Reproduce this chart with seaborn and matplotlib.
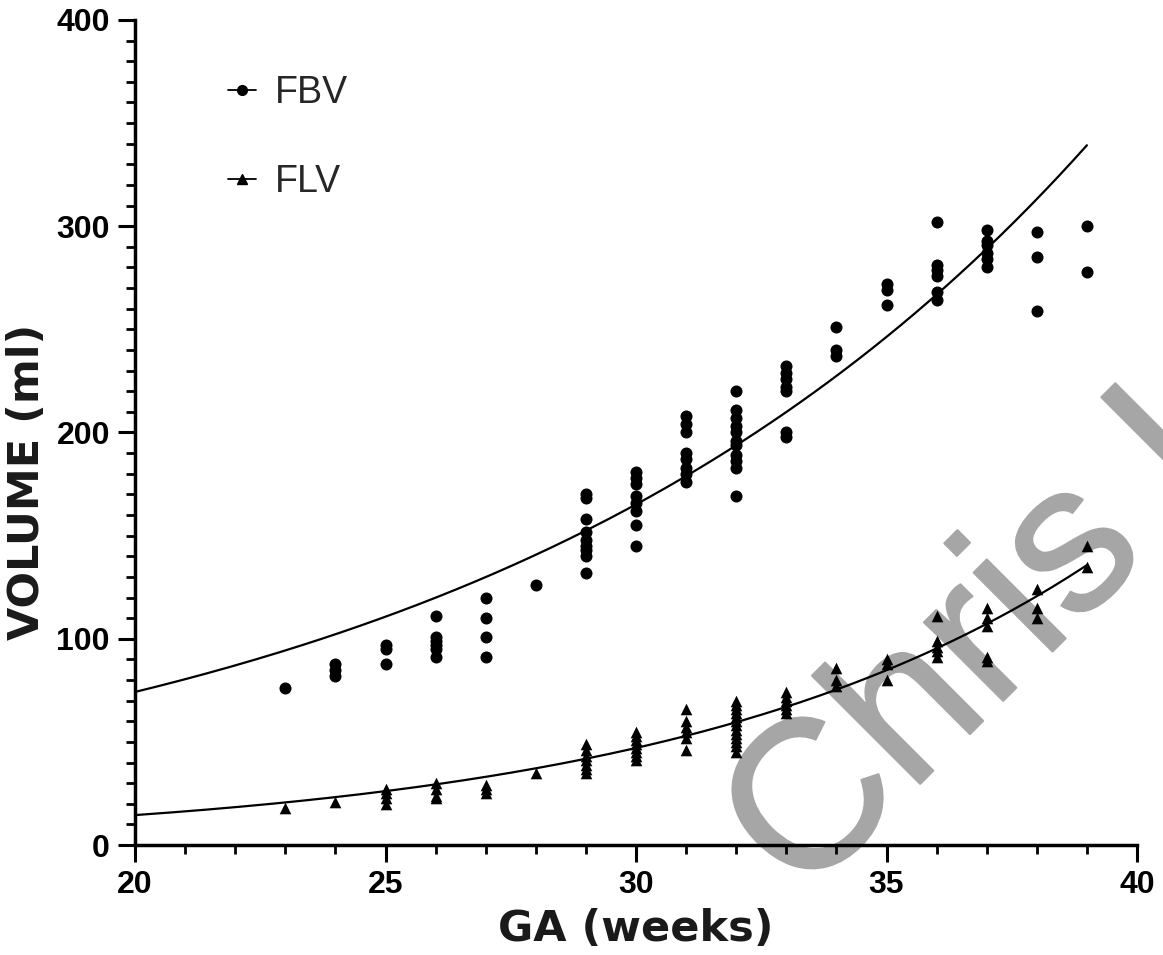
import numpy as np
import pandas as pd
import matplotlib
matplotlib.use("Agg")
import matplotlib.pyplot as plt
import matplotlib.patheffects as pe
from matplotlib.lines import Line2D
import seaborn as sns

# ---------------- data ----------------
fbv_weeks = [23, 24, 25, 26, 27, 28, 29, 30, 31, 32, 33, 34, 35, 36, 37, 38, 39]
fbv_values = [
    [76],
    [88, 85, 82],
    [97, 95, 88],
    [111, 101, 99, 97, 95, 91],
    [120, 110, 101, 91],
    [126],
    [170, 168, 158, 152, 148, 145, 143, 140, 132],
    [181, 178, 175, 169, 166, 162, 155, 145],
    [208, 204, 200, 190, 187, 183, 180, 176],
    [220, 211, 207, 203, 200, 196, 194, 189, 186, 183, 169],
    [232, 229, 226, 222, 220, 200, 198],
    [251, 240, 237],
    [272, 269, 262],
    [302, 281, 279, 276, 268, 264],
    [298, 293, 291, 287, 284, 280],
    [297, 285, 259],
    [300, 278],
]

flv_weeks = [23, 24, 25, 26, 27, 28, 29, 30, 31, 32, 33, 34, 35, 36, 37, 38, 39]
flv_values = [
    [18],
    [21],
    [27, 25, 23, 20],
    [30, 27, 24, 23],
    [29, 27, 25],
    [35],
    [49, 46, 43, 41, 39, 37, 35],
    [55, 53, 51, 49, 47, 45, 43, 41],
    [66, 60, 57, 55, 52, 46],
    [70, 68, 66, 64, 62, 60, 58, 56, 54, 52, 50, 48, 45],
    [74, 72, 70, 68, 66, 64],
    [86, 80, 77],
    [90, 88, 80],
    [111, 99, 96, 94, 91],
    [115, 110, 106, 91, 89],
    [124, 115, 110],
    [145, 135],
]

# exponential fit curves  y = a * exp(b * (GA - 20))
fbv_fit_a, fbv_fit_b = 74.2, 0.0800
flv_fit_a, flv_fit_b = 14.5, 0.1177
fit_range = [20, 39]

x_ticks = [20, 25, 30, 35, 40]
y_ticks = [0, 100, 200, 300, 400]
series_labels = ["FBV", "FLV"]
watermark = "Chris L"

# ---------------- build tables ----------------
def long_table(weeks, values):
    rows = [(w, v) for w, vs in zip(weeks, values) for v in vs]
    return pd.DataFrame(rows, columns=["GA", "VOL"])

fbv_df = long_table(fbv_weeks, fbv_values)
flv_df = long_table(flv_weeks, flv_values)

ga_curve = np.linspace(fit_range[0], fit_range[1], 200)
fbv_curve = pd.DataFrame({"GA": ga_curve,
                          "VOL": fbv_fit_a * np.exp(fbv_fit_b * (ga_curve - 20))})
flv_curve = pd.DataFrame({"GA": ga_curve,
                          "VOL": flv_fit_a * np.exp(flv_fit_b * (ga_curve - 20))})

# ---------------- plot ----------------
sns.set_theme(style="ticks")
plt.rcParams["font.family"] = ["Liberation Sans", "DejaVu Sans"]

W, H, DPI = 1163, 955, 100
fig = plt.figure(figsize=(W / DPI, H / DPI), dpi=DPI)
ax = fig.add_axes([135 / W, 1 - 845 / H, (1137 - 135) / W, (845 - 20) / H])
ax.patch.set_alpha(0)
ax.set_zorder(1)

sns.lineplot(data=fbv_curve, x="GA", y="VOL", ax=ax, color="black",
             linewidth=1.6, zorder=3)
sns.lineplot(data=flv_curve, x="GA", y="VOL", ax=ax, color="black",
             linewidth=1.6, zorder=3)
sns.scatterplot(data=fbv_df, x="GA", y="VOL", ax=ax, marker="o", s=75,
                color="black", edgecolor="black", linewidth=0, zorder=4)
sns.scatterplot(data=flv_df, x="GA", y="VOL", ax=ax, marker="^", s=70,
                color="black", edgecolor="black", linewidth=0, zorder=4)

ax.set_xlim(20, 40)
ax.set_ylim(0, 400)
ax.set_xticks(x_ticks)
ax.set_yticks(y_ticks)
ax.set_xticks(np.arange(20, 41, 1), minor=True)
ax.set_yticks(np.arange(0, 401, 10), minor=True)
ax.tick_params(which="major", length=12, width=2.2, direction="out",
               labelsize=23, pad=6, color="black", labelcolor="black")
ax.tick_params(which="minor", length=6.5, width=2.0, direction="out",
               color="black")
for lab in ax.get_xticklabels() + ax.get_yticklabels():
    lab.set_fontweight("bold")

sns.despine(ax=ax)
for sp in ["left", "bottom"]:
    ax.spines[sp].set_linewidth(2.5)
    ax.spines[sp].set_color("black")

label_font = dict(fontsize=31, fontweight="bold",
                  family=["DejaVu Sans"], color="#1a1a1a")
ax.set_xlabel("GA (weeks)", labelpad=6, **label_font)
ax.set_ylabel("VOLUME (ml)", labelpad=5, **label_font)
ax.yaxis.set_label_coords(-0.087, 0.44)

handles = [
    Line2D([0], [0], color="black", lw=1.3, marker="o", markersize=7),
    Line2D([0], [0], color="black", lw=1.3, marker="^", markersize=7),
]
ax.legend(handles, series_labels, loc="upper left",
          bbox_to_anchor=(0.093, 0.933), frameon=False, fontsize=27,
          handlelength=0.75, handletextpad=0.5, labelspacing=1.4,
          borderaxespad=0, borderpad=0)

fig.text(802 / W, 1 - 902 / H, watermark, rotation=45, rotation_mode="anchor",
         ha="left", va="baseline", fontsize=152, color="#a6a6a6",
         family=["Liberation Sans", "DejaVu Sans"], zorder=0,
         path_effects=[pe.withStroke(linewidth=1.5, foreground="#a6a6a6")])

fig.savefig("out.png", dpi=DPI)
